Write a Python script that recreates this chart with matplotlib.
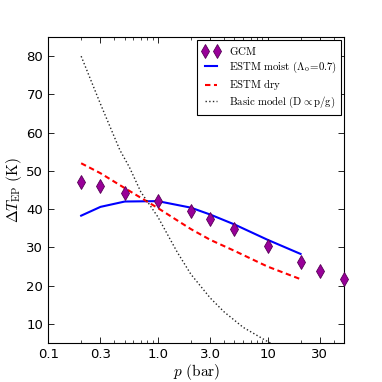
import matplotlib
matplotlib.use("Agg")
import matplotlib.pyplot as plt
from matplotlib.ticker import FixedLocator, FixedFormatter, LogLocator, NullFormatter, NullLocator

plt.rcParams['mathtext.fontset'] = 'cm'

# GCM results
gcm_p = [0.2, 0.3, 0.5, 1.0, 2.0, 3.0, 5.0, 10.0, 20.0, 30.0, 50.0]
gcm_dT = [47.0, 46.0, 44.3, 42.1, 39.6, 37.3, 34.9, 30.3, 26.2, 23.9, 21.8]

# ESTM moist
moist_p = [0.2, 0.3, 0.5, 1.0, 2.0, 3.0, 5.0, 10.0, 20.0]
moist_dT = [38.3, 40.6, 42.0, 42.1, 40.4, 38.6, 36.0, 32.0, 28.3]

# ESTM dry
dry_p = [0.2, 0.3, 0.5, 1.0, 2.0, 3.0, 5.0, 10.0, 20.0]
dry_dT = [52.0, 49.4, 45.5, 40.3, 34.8, 32.0, 29.1, 25.0, 21.7]

# Basic model
basic_p = [0.2, 0.3, 0.45, 0.55, 0.7, 1.0, 1.5, 2.0, 3.0, 4.0, 6.0, 10.0, 12.0]
basic_dT = [80.0, 67.5, 55.5, 51.0, 44.5, 38.0, 28.8, 23.0, 16.8, 13.2, 9.1, 5.4, 4.3]

xticks = [0.1, 0.3, 1.0, 3.0, 10, 30]
xticklabels = ['0.1', '0.3', '1.0', '3.0', '10', '30']
yticks = [10, 20, 30, 40, 50, 60, 70, 80]

fig = plt.figure(figsize=(3.82, 3.82), dpi=100)
ax = fig.add_axes([0.126, 0.102, 0.775, 0.801])

ax.plot(gcm_p, gcm_dT, linestyle='none', marker='d', markersize=6.8,
        markerfacecolor='#990099', markeredgecolor='#550055', markeredgewidth=0.6,
        label=r'$\mathrm{GCM}$', clip_on=False, zorder=5)
ax.plot(moist_p, moist_dT, '-', color='blue', lw=1.5,
        label=r'$\mathrm{ESTM\ moist\ (\Lambda_o\!=\!0.7)}$')
ax.plot(dry_p, dry_dT, '--', color='red', lw=1.5, dashes=(2.6, 1.7),
        label=r'$\mathrm{ESTM\ dry}$')
ax.plot(basic_p, basic_dT, ':', color='0.15', lw=1.0,
        label=r'$\mathrm{Basic\ model\ (D\propto p/g)}$')

ax.set_xscale('log')
ax.set_xlim(0.1, 50)
ax.set_ylim(5, 85)
ax.xaxis.set_major_locator(FixedLocator(xticks))
ax.xaxis.set_major_formatter(FixedFormatter(xticklabels))
ax.xaxis.set_minor_locator(LogLocator(base=10, subs=[1, 2, 3, 4, 5, 6, 7, 8, 9]))
ax.xaxis.set_minor_formatter(NullFormatter())
ax.set_yticks(yticks)
ax.yaxis.set_minor_locator(NullLocator())
ax.tick_params(which='both', direction='in', top=True, right=True, labelsize=9.5)
ax.tick_params(which='major', length=4, width=0.6)
ax.tick_params(which='minor', length=2, width=0.5)
for s in ax.spines.values():
    s.set_linewidth(0.8)

ax.set_xlabel(r'$p\ \mathrm{(bar)}$', fontsize=11, labelpad=1)
ax.set_ylabel(r'$\Delta T_{\rm EP}\ \mathrm{(K)}$', fontsize=11, labelpad=2)

leg = ax.legend(loc='upper right', numpoints=2, fontsize=7.8, fancybox=False,
                framealpha=1, edgecolor='black', borderaxespad=0.3,
                handlelength=1.7, labelspacing=0.25, borderpad=0.4,
                handletextpad=0.8)
leg.get_frame().set_linewidth(0.8)

fig.savefig('out.png', dpi=100)
